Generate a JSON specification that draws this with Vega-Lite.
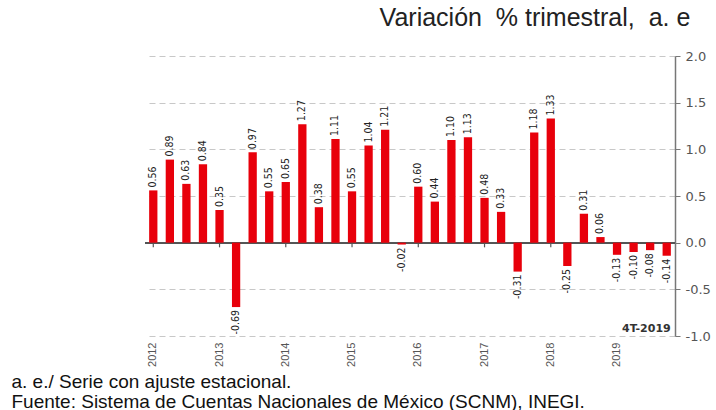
{
  "$schema": "https://vega.github.io/schema/vega-lite/v6.json",
  "width": 530,
  "height": 280,
  "autosize": "none",
  "padding": {"left": 145, "top": 56, "right": 41, "bottom": 74},
  "background": "white",
  "title": {"text": "Variación\u00a0 % trimestral,\u00a0 a. e", "anchor": "end", "font": "Liberation Sans", "fontSize": 25, "fontWeight": "normal", "color": "#222", "offset": 19, "dx": -20},
  "data": {"values": [
    {"t": "2012-T1", "v": 0.56}, {"t": "2012-T2", "v": 0.89}, {"t": "2012-T3", "v": 0.63}, {"t": "2012-T4", "v": 0.84},
    {"t": "2013-T1", "v": 0.35}, {"t": "2013-T2", "v": -0.69}, {"t": "2013-T3", "v": 0.97}, {"t": "2013-T4", "v": 0.55},
    {"t": "2014-T1", "v": 0.65}, {"t": "2014-T2", "v": 1.27}, {"t": "2014-T3", "v": 0.38}, {"t": "2014-T4", "v": 1.11},
    {"t": "2015-T1", "v": 0.55}, {"t": "2015-T2", "v": 1.04}, {"t": "2015-T3", "v": 1.21}, {"t": "2015-T4", "v": -0.02},
    {"t": "2016-T1", "v": 0.60}, {"t": "2016-T2", "v": 0.44}, {"t": "2016-T3", "v": 1.10}, {"t": "2016-T4", "v": 1.13},
    {"t": "2017-T1", "v": 0.48}, {"t": "2017-T2", "v": 0.33}, {"t": "2017-T3", "v": -0.31}, {"t": "2017-T4", "v": 1.18},
    {"t": "2018-T1", "v": 1.33}, {"t": "2018-T2", "v": -0.25}, {"t": "2018-T3", "v": 0.31}, {"t": "2018-T4", "v": 0.06},
    {"t": "2019-T1", "v": -0.13}, {"t": "2019-T2", "v": -0.10}, {"t": "2019-T3", "v": -0.08}, {"t": "2019-T4", "v": -0.14}
  ]},
  "layer": [
    {
      "mark": {"type": "rule", "color": "#555", "strokeWidth": 1.5},
      "encoding": {"y": {"datum": 0, "type": "quantitative"}}
    },
    {
      "transform": [{"filter": "indexof(datum.t,'T1')>=0"}],
      "mark": {"type": "rule", "color": "#555", "strokeWidth": 1.2},
      "encoding": {"x": {"field": "t", "type": "ordinal"}, "y": {"datum": 0, "type": "quantitative"}, "y2": {"datum": -0.05}}
    },
    {
      "mark": {"type": "bar", "color": "#e8000b", "width": {"band": 0.5}},
      "encoding": {
        "x": {"field": "t", "type": "ordinal", "scale": {"paddingInner": 0, "paddingOuter": 0},
          "axis": {"orient": "bottom", "domain": false, "ticks": false, "grid": false, "labelAngle": -90,
            "labelExpr": "indexof(datum.value,'T1')>=0 ? substring(datum.value,0,4) : ''",
            "labelFont": "Liberation Sans", "labelFontSize": 11, "labelColor": "#555", "labelPadding": 6, "labelOverlap": false,
            "title": ["a. e./ Serie con ajuste estacional.", "Fuente: Sistema de Cuentas Nacionales de México (SCNM), INEGI."],
            "titleAnchor": "start", "titleAlign": "left", "titleX": -134, "titleY": 36, "titleBaseline": "top",
            "titleFont": "Liberation Sans", "titleFontSize": 19, "titleFontWeight": "normal", "titleColor": "#111", "titleLineHeight": 20}},
        "y": {"field": "v", "type": "quantitative", "scale": {"domain": [-1, 2], "nice": false, "zero": false},
          "axis": {"orient": "right", "values": [-1, -0.5, 0, 0.5, 1, 1.5, 2], "format": ".1f",
            "domain": true, "domainColor": "#777", "domainWidth": 1.5, "ticks": true, "tickColor": "#777", "tickSize": 5,
            "labelFont": "DejaVu Sans", "labelFontSize": 13, "labelColor": "#555", "labelPadding": 5,
            "grid": true, "gridDash": [6, 4], "gridColor": "#c8c8c8", "title": null}}
      }
    },
    {
      "transform": [{"filter": "datum.v >= 0"}],
      "mark": {"type": "text", "angle": -90, "align": "left", "baseline": "middle", "dx": 3,
        "font": "Liberation Sans Narrow, DejaVu Sans Condensed, Roboto Condensed, sans-serif", "fontSize": 10.5, "color": "#222"},
      "encoding": {"x": {"field": "t", "type": "ordinal"}, "y": {"field": "v", "type": "quantitative"},
        "text": {"field": "v", "type": "quantitative", "format": ".2f"}}
    },
    {
      "transform": [{"filter": "datum.v < 0"}],
      "mark": {"type": "text", "angle": -90, "align": "right", "baseline": "middle", "dx": -3,
        "font": "Liberation Sans Narrow, DejaVu Sans Condensed, Roboto Condensed, sans-serif", "fontSize": 10.5, "color": "#222"},
      "encoding": {"x": {"field": "t", "type": "ordinal"}, "y": {"field": "v", "type": "quantitative"},
        "text": {"field": "v", "type": "quantitative", "format": ".2f"}}
    },
    {
      "data": {"values": [{"t": "2019-T4", "v": -1, "lab": "4T-2019"}]},
      "mark": {"type": "text", "align": "right", "baseline": "bottom", "dx": 4, "dy": -2,
        "font": "DejaVu Sans", "fontWeight": "bold", "fontSize": 11, "color": "#333"},
      "encoding": {"x": {"field": "t", "type": "ordinal"}, "y": {"field": "v", "type": "quantitative"},
        "text": {"field": "lab"}}
    }
  ],
  "config": {
    "view": {"stroke": null},
    "locale": {"number": {"decimal": ".", "thousands": ",", "grouping": [3], "currency": ["$", ""], "minus": "-"}}
  }
}
